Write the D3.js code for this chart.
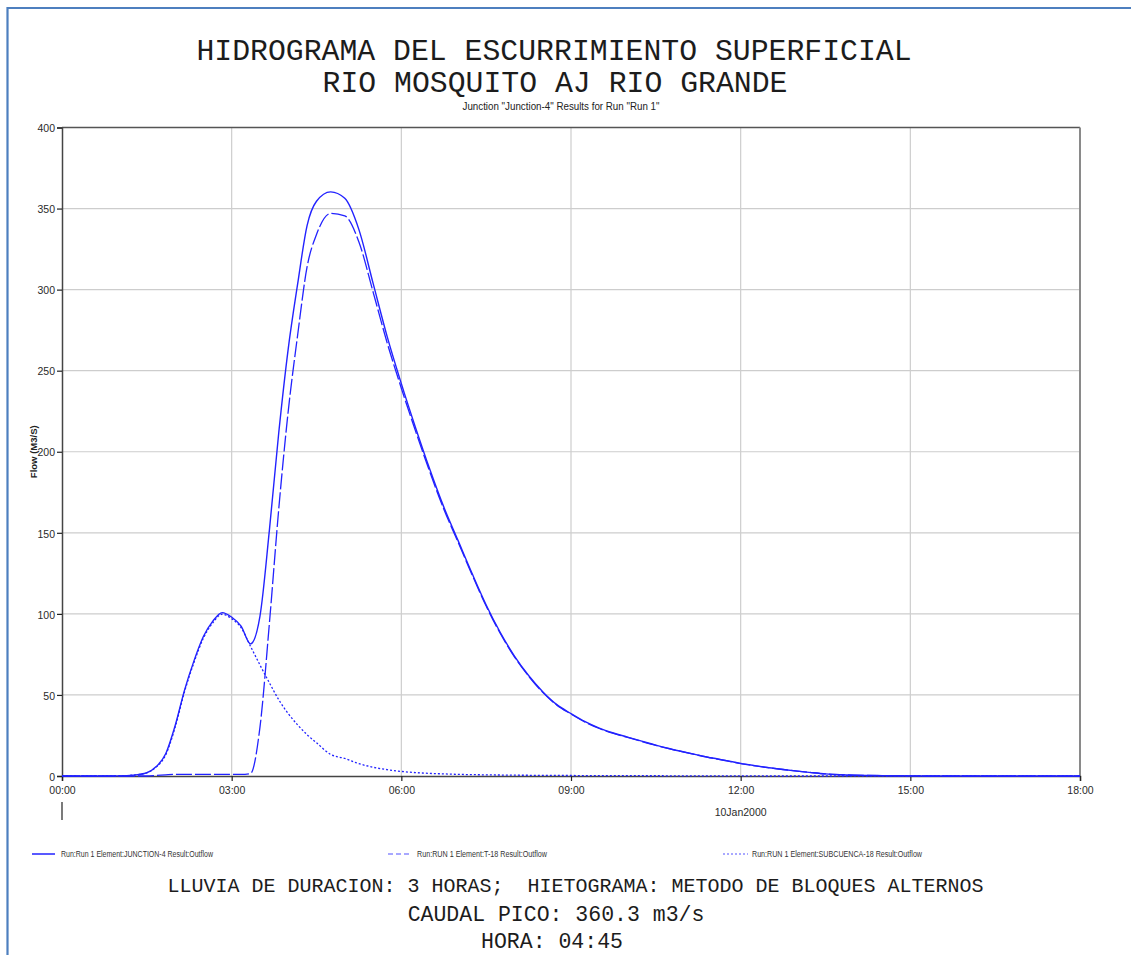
<!DOCTYPE html>
<html>
<head>
<meta charset="utf-8">
<script src="https://cdn.jsdelivr.net/npm/d3@7"></script>
<style>
  body { margin: 0; background: #fff; }
  svg { display: block; }
</style>
</head>
<body>
<svg id="chart" width="1131" height="955"></svg>
<script>
// Simulation time (minutes since 10Jan2000 00:00)
const timeMinutes = [
  0, 15, 30, 45, 60, 75,
  90, 100, 110, 120, 130, 140, 150, 160, 170, 180, 190, 200, 210, 220, 230, 240, 250, 260, 270,
  285, 300, 315, 330, 345, 360, 375, 390, 405, 420, 435, 450, 465, 480, 495, 510, 525, 540,
  555, 570, 585, 600, 615, 630, 645, 660, 675, 690, 705, 720, 735, 750, 765, 780, 795, 810,
  825, 840, 855, 870, 885, 900, 915, 930, 945, 960, 975, 990, 1005, 1020, 1035, 1050, 1065, 1080
];

// Junction-4 outflow (m3/s)
const junctionFlow = [
  0, 0, 0, 0, 0.1, 0.5,
  2.0, 5.8, 13.7, 31, 53, 71, 86, 95.5, 100.8, 98, 92.5, 81.5, 98.5, 151.5, 212, 263.5, 303.5, 339.5, 354.5,
  360.3, 356.3, 337, 304, 271, 242, 215, 189.5, 166, 145.5, 125, 105.5, 88.5, 74, 62, 52, 44, 38.5,
  33.5, 29.5, 26.5, 24, 21.5, 19, 16.8, 14.8, 12.9, 11.1, 9.5, 7.8, 6.4, 5.1, 4.0, 3.0, 2.1, 1.3,
  0.8, 0.5, 0.35, 0.25, 0.15, 0.1, 0, 0, 0, 0, 0, 0, 0, 0, 0, 0, 0, 0
];

// Reach T-18 outflow (m3/s)
const reachFlow = [
  0, 0, 0, 0, 0, 0,
  0, 0.3, 0.7, 1.0, 1.0, 1.0, 1.0, 1.0, 1.0, 1.0, 1.0, 1.5, 30, 94, 165, 225, 272, 314, 334,
  347.0, 345.5, 329.4, 298.6, 267.1, 239.2, 212.9, 187.9, 164.7, 144.5, 124.2, 104.8, 87.9, 73.5, 61.6, 51.6, 43.7, 38.2,
  33.2, 29.3, 26.3, 23.8, 21.3, 18.9, 16.7, 14.7, 12.8, 11.0, 9.4, 7.7, 6.3, 5.1, 4.0, 3.0, 2.1, 1.3,
  0.8, 0.5, 0.35, 0.25, 0.15, 0.1, 0, 0, 0, 0, 0, 0, 0, 0, 0, 0, 0, 0
];

// Subbasin SUBCUENCA-18 outflow (m3/s)
const subbasinFlow = [
  0, 0, 0, 0, 0.1, 0.5,
  2.0, 5.5, 13, 30, 52, 70, 85, 94.5, 99.8, 97, 91.5, 80, 68.5, 57.5, 47, 38.5, 31.5, 25.5, 20.5,
  13.3, 10.8, 7.6, 5.4, 3.9, 2.8, 2.1, 1.6, 1.3, 1.0, 0.85, 0.7, 0.6, 0.5, 0.45, 0.4, 0.35, 0.3,
  0.28, 0.25, 0.22, 0.2, 0.18, 0.15, 0.13, 0.12, 0.1, 0.1, 0.1, 0.1, 0.1, 0, 0, 0, 0, 0,
  0, 0, 0, 0, 0, 0, 0, 0, 0, 0, 0, 0, 0, 0, 0, 0, 0, 0
];

const yTickValues = [0, 50, 100, 150, 200, 250, 300, 350, 400];
const xTickMinutes = [0, 180, 360, 540, 720, 900, 1080];
const dateLabel = "10Jan2000";

const titleLines = ["HIDROGRAMA DEL ESCURRIMIENTO SUPERFICIAL", "RIO MOSQUITO AJ RIO GRANDE"];
const subtitle = 'Junction "Junction-4" Results for Run "Run 1"';
const yAxisLabel = "Flow (M3/S)";
const legendLabels = [
  "Run:Run 1 Element:JUNCTION-4 Result:Outflow",
  "Run:RUN 1 Element:T-18 Result:Outflow",
  "Run:RUN 1 Element:SUBCUENCA-18 Result:Outflow"
];
const noteLines = [
  "LLUVIA DE DURACION: 3 HORAS;  HIETOGRAMA: METODO DE BLOQUES ALTERNOS",
  "CAUDAL PICO: 360.3 m3/s",
  "HORA: 04:45"
];

// ---- layout ----
const plot = { left: 62, right: 1080, top: 127.5, bottom: 776 };
const mono = "'Liberation Mono', 'Courier New', monospace";
const narrow = "'Liberation Sans Narrow', 'Arial Narrow', 'Liberation Sans', sans-serif";
const lineBlue = "#2222ff";

const svg = d3.select("#chart");
svg.append("rect").attr("width", 1131).attr("height", 955).attr("fill", "#fff");

// outer page frame
svg.append("path")
  .attr("d", "M7.5,955 V8 H1131")
  .attr("fill", "none")
  .attr("stroke", "#4d7fbf")
  .attr("stroke-width", 2.2);

const x = d3.scaleLinear().domain([0, 1080]).range([plot.left, plot.right]);
const y = d3.scaleLinear().domain([0, 400]).range([plot.bottom, plot.top]);

// grid
const grid = svg.append("g");
grid.selectAll("line.h").data(yTickValues.filter(v => v > 0 && v < 400)).join("line")
  .attr("x1", plot.left).attr("x2", plot.right)
  .attr("y1", d => y(d)).attr("y2", d => y(d))
  .attr("stroke", "#cdcdcd").attr("stroke-width", 1.2);
grid.selectAll("line.v").data(xTickMinutes.filter(v => v > 0 && v < 1080)).join("line")
  .attr("y1", plot.top).attr("y2", plot.bottom)
  .attr("x1", d => x(d)).attr("x2", d => x(d))
  .attr("stroke", "#cdcdcd").attr("stroke-width", 1.2);

// plot frame (top and right)
svg.append("line").attr("x1", plot.left).attr("x2", plot.right)
  .attr("y1", plot.top).attr("y2", plot.top)
  .attr("stroke", "#555").attr("stroke-width", 1.5);
svg.append("line").attr("x1", plot.right).attr("x2", plot.right)
  .attr("y1", plot.top).attr("y2", plot.bottom)
  .attr("stroke", "#8a8a8a").attr("stroke-width", 2);

// axes
const fmtTime = m => d3.format("02d")(Math.floor(m / 60)) + ":" + d3.format("02d")(m % 60);

const yAxis = svg.append("g")
  .attr("transform", `translate(${plot.left},0)`)
  .call(d3.axisLeft(y).tickValues(yTickValues).tickSize(5).tickPadding(2).tickFormat(d3.format("d")));
const xAxis = svg.append("g")
  .attr("transform", `translate(0,${plot.bottom})`)
  .call(d3.axisBottom(x).tickValues(xTickMinutes).tickSize(5).tickPadding(6).tickFormat(fmtTime));

[yAxis, xAxis].forEach(a => {
  a.select(".domain").attr("stroke", "#444").attr("stroke-width", 1.5);
  a.selectAll(".tick line").attr("stroke", "#222").attr("stroke-width", 1.2);
  a.selectAll(".tick text")
    .attr("font-family", narrow).attr("font-size", 10.5).attr("fill", "#2a2a2a");
});
yAxis.selectAll(".tick text").attr("dy", "0.4em");

// date label under the time axis
svg.append("text")
  .attr("x", x(720)).attr("y", 816)
  .attr("text-anchor", "middle")
  .attr("font-family", narrow).attr("font-size", 10.5).attr("fill", "#2a2a2a")
  .text(dateLabel);
svg.append("line")
  .attr("x1", x(0)).attr("x2", x(0)).attr("y1", 802).attr("y2", 820)
  .attr("stroke", "#222").attr("stroke-width", 1.2);

// y axis title
svg.append("text")
  .attr("transform", `translate(37,${(plot.top + plot.bottom) / 2}) rotate(-90)`)
  .attr("text-anchor", "middle")
  .attr("font-family", narrow).attr("font-size", 9.5).attr("font-weight", "bold").attr("fill", "#222")
  .text(yAxisLabel);

// series
const series = [
  { values: junctionFlow, dash: null, width: 1.4 },
  { values: reachFlow, dash: "16,3", width: 1.3 },
  { values: subbasinFlow, dash: "2,2", width: 1.3 }
];
const lineGen = d3.line()
  .x(d => x(d[0]))
  .y(d => y(d[1]))
  .curve(d3.curveMonotoneX);

const lines = svg.append("g").attr("fill", "none");
series.slice().reverse().forEach(s => {
  lines.append("path")
    .attr("d", lineGen(timeMinutes.map((t, i) => [t, s.values[i]])))
    .attr("stroke", lineBlue)
    .attr("stroke-width", s.width)
    .attr("stroke-dasharray", s.dash)
    .attr("stroke-linejoin", "round");
});

// legend
const legendItems = [
  { x0: 32, x1: 55, tx: 61, tw: 152, dash: null, color: lineBlue, label: legendLabels[0] },
  { x0: 388, x1: 412, tx: 417, tw: 130, dash: "5,3", color: "#8c8cff", label: legendLabels[1] },
  { x0: 723, x1: 748, tx: 752, tw: 170, dash: "2,2", color: "#8c8cff", label: legendLabels[2] }
];
const legend = svg.append("g");
legendItems.forEach(it => {
  legend.append("line")
    .attr("x1", it.x0).attr("x2", it.x1).attr("y1", 854).attr("y2", 854)
    .attr("stroke", it.color).attr("stroke-width", 1.5)
    .attr("stroke-dasharray", it.dash);
  legend.append("text")
    .attr("x", it.tx).attr("y", 857)
    .attr("font-family", narrow).attr("font-size", 8.5).attr("fill", "#333")
    .attr("textLength", it.tw).attr("lengthAdjust", "spacingAndGlyphs")
    .text(it.label);
});

// titles
svg.append("text")
  .attr("x", 554).attr("y", 60)
  .attr("text-anchor", "middle")
  .attr("font-family", mono).attr("font-size", 29.8).attr("fill", "#1c1c1c")
  .text(titleLines[0]);
svg.append("text")
  .attr("x", 555).attr("y", 92)
  .attr("text-anchor", "middle")
  .attr("font-family", mono).attr("font-size", 29.8).attr("fill", "#1c1c1c")
  .text(titleLines[1]);
svg.append("text")
  .attr("x", 561).attr("y", 110)
  .attr("text-anchor", "middle")
  .attr("font-family", narrow).attr("font-size", 10).attr("fill", "#222")
  .attr("textLength", 197).attr("lengthAdjust", "spacingAndGlyphs")
  .text(subtitle);

// notes below the chart
const notes = [
  { x: 575.5, y: 892, size: 20, text: noteLines[0] },
  { x: 556, y: 921, size: 21.5, text: noteLines[1] },
  { x: 552, y: 947.5, size: 21.5, text: noteLines[2] }
];
notes.forEach(n => {
  svg.append("text")
    .attr("x", n.x).attr("y", n.y)
    .attr("text-anchor", "middle")
    .attr("font-family", mono).attr("font-size", n.size).attr("fill", "#1c1c1c")
    .attr("xml:space", "preserve").style("white-space", "pre")
    .text(n.text);
});
</script>
</body>
</html>
